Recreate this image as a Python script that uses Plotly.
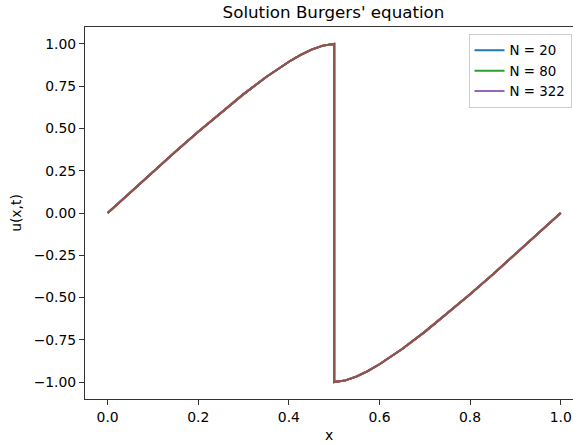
import plotly.graph_objects as go

# x grid and solution values
x_vals = [0.0, 0.05, 0.1, 0.15, 0.2, 0.25, 0.3, 0.35, 0.375, 0.4, 0.425, 0.45, 0.475, 0.5,
          0.5, 0.525, 0.55, 0.575, 0.6, 0.625, 0.65, 0.7, 0.75, 0.8, 0.85, 0.9, 0.95, 1.0]
u_vals = [0.0, 0.122, 0.2435, 0.3635, 0.481, 0.5945, 0.703, 0.8045, 0.8515, 0.8945, 0.9335, 0.966, 0.990, 1.0,
          -1.0, -0.990, -0.966, -0.9335, -0.8945, -0.8515, -0.8045, -0.703, -0.5945, -0.481, -0.3635, -0.2435, -0.122, 0.0]

series_names = ["N = 20", None, "N = 80", None, "N = 322", None]
series_colors = ["#1f77b4", "#ff7f0e", "#2ca02c", "#d62728", "#9467bd", "#8c564b"]

x_ticks = [0.0, 0.2, 0.4, 0.6, 0.8, 1.0]
y_ticks = [1.0, 0.75, 0.5, 0.25, 0.0, -0.25, -0.5, -0.75, -1.0]

fig = go.Figure()
for name, color in zip(series_names, series_colors):
    fig.add_trace(go.Scatter(
        x=x_vals, y=u_vals, mode="lines",
        line=dict(color=color, width=2),
        name=name if name else "",
        showlegend=name is not None,
    ))

font_family = "DejaVu Sans"
W, H = 573, 444
L, R, T, B = 85, 0, 27, 45

fig.update_layout(
    width=W, height=H,
    margin=dict(l=L, r=R, t=T, b=B, pad=0, autoexpand=False),
    paper_bgcolor="white", plot_bgcolor="white",
    font=dict(family=font_family, size=13.9, color="black"),
    title=dict(text="Solution Burgers' equation", x=(333.5 - L) / (W - L - R), xref="paper",
               xanchor="center", y=1 - 12 / H, yanchor="middle",
               font=dict(size=16.7, family=font_family, color="black")),
    legend=dict(x=(571.5 - L) / (W - L - R), y=(399 - 34) / (399 - 27), xanchor="right", yanchor="top",
                bordercolor="#cccccc", borderwidth=1, bgcolor="rgba(255,255,255,0.8)",
                font=dict(size=13.4, family=font_family), itemwidth=30),
    showlegend=True,
)

fig.update_xaxes(
    range=[-0.05, (W - 108.3) / 452.4 - 0.0], tickvals=x_ticks, tickformat=".1f",
    showgrid=False, zeroline=False, showline=True, linecolor="#333333", linewidth=1,
    mirror=True, ticks="outside", ticklen=5, tickcolor="#333333",
    title=dict(text="x", standoff=6, font=dict(size=13.9)),
)
fig.update_yaxes(
    range=[-1.1, 1.1], tickvals=y_ticks, tickformat=".2f",
    showgrid=False, zeroline=False, showline=True, linecolor="#333333", linewidth=1,
    mirror=False, ticks="outside", ticklen=5, tickcolor="#333333",
    title=dict(text="u(x,t)", standoff=8, font=dict(size=13.9)),
)

fig.write_html("out.html")
